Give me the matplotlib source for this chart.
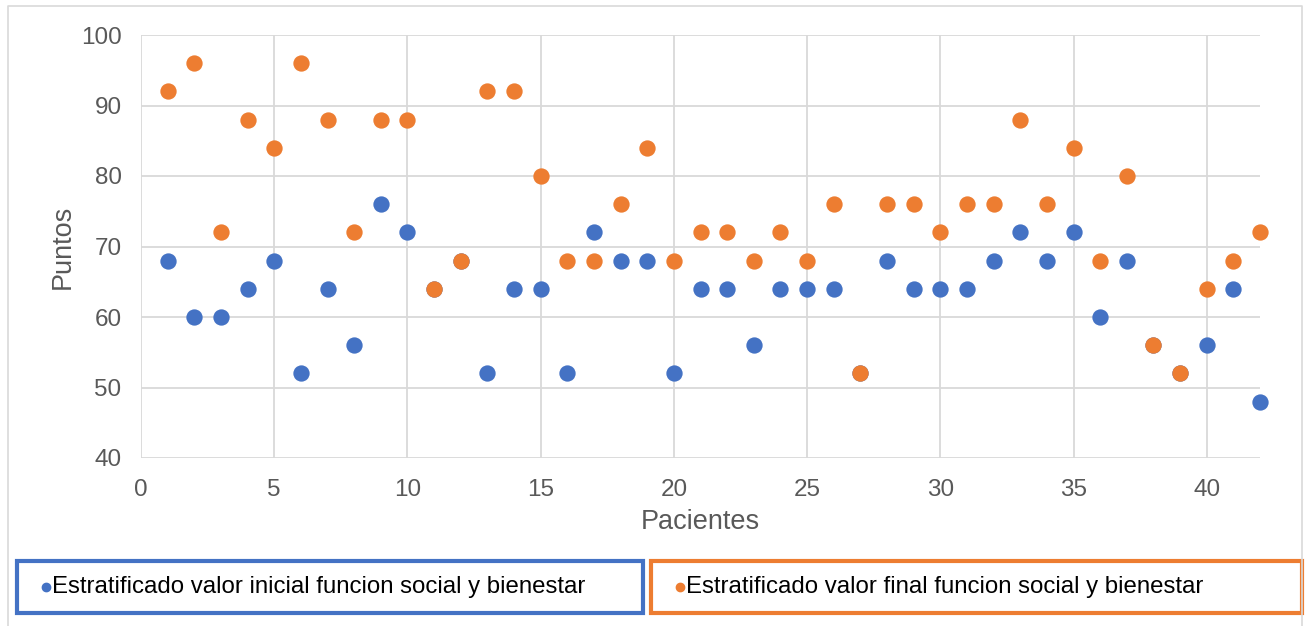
import matplotlib.pyplot as plt
from matplotlib.lines import Line2D
from matplotlib.patches import Rectangle

plt.rcParams["font.family"] = ["Liberation Sans", "DejaVu Sans"]

BLUE = "#4472C4"
ORANGE = "#ED7D31"
GRID = "#D9D9D9"
TEXT_GREY = "#595959"

pacientes = list(range(1, 43))
inicial = [68, 60, 60, 64, 68, 52, 64, 56, 76, 72,
           64, 68, 52, 64, 64, 52, 72, 68, 68, 52,
           64, 64, 56, 64, 64, 64, 52, 68, 64, 64,
           64, 68, 72, 68, 72, 60, 68, 56, 52, 56,
           64, 48]
final = [92, 96, 72, 88, 84, 96, 88, 72, 88, 88,
         64, 68, 92, 92, 80, 68, 68, 76, 84, 68,
         72, 72, 68, 72, 68, 76, 52, 76, 76, 72,
         76, 76, 88, 76, 84, 68, 80, 56, 52, 64,
         68, 72]

label_ini = "Estratificado valor inicial funcion social y bienestar"
label_fin = "Estratificado valor final funcion social y bienestar"

W, H = 1311, 626
fig = plt.figure(figsize=(W / 100, H / 100), dpi=100)

# light outer chart frame (open at the bottom)
fig.add_artist(Line2D([8 / W, 8 / W, 1302 / W, 1302 / W], [0, 1 - 6 / H, 1 - 6 / H, 0],
                      transform=fig.transFigure, color=GRID, lw=1.2))

ax = fig.add_axes([141 / W, 1 - 458 / H, (1260 - 141) / W, (458 - 35) / H])
ax.scatter(pacientes, inicial, s=138, color=BLUE, zorder=3, clip_on=False, linewidths=0)
ax.scatter(pacientes, final, s=138, color=ORANGE, zorder=4, clip_on=False, linewidths=0)

ax.set_xlim(0, 42)
ax.set_ylim(40, 100)
ax.set_xticks(range(0, 41, 5))
ax.set_yticks(range(40, 101, 10))
ax.grid(True, color=GRID, lw=1.3, zorder=0)
ax.set_axisbelow(True)
for s in ax.spines.values():
    s.set_visible(False)
ax.tick_params(length=0, labelsize=17.5, labelcolor=TEXT_GREY)
ax.tick_params(axis="x", pad=15)
ax.tick_params(axis="y", pad=14)
ax.set_xlabel("Pacientes", fontsize=19.5, color=TEXT_GREY, labelpad=6)
ax.set_ylabel("Puntos", fontsize=19.5, color=TEXT_GREY, labelpad=4)

# legend boxes below the plot
for x0, x1, color, label in [(17, 643, BLUE, label_ini), (651, 1302, ORANGE, label_fin)]:
    fig.add_artist(Rectangle((x0 / W, 1 - 613 / H), (x1 - x0) / W, 52 / H,
                             transform=fig.transFigure, fill=False, edgecolor=color, lw=3))
    fig.add_artist(Line2D([(x0 + 29) / W], [1 - 587 / H], transform=fig.transFigure,
                          marker="o", markersize=6, color=color, lw=0))
    fig.text((x0 + 35) / W, 1 - 587 / H, label, fontsize=17.3, color="black",
             va="center", ha="left")

fig.savefig("out.png", dpi=100)
